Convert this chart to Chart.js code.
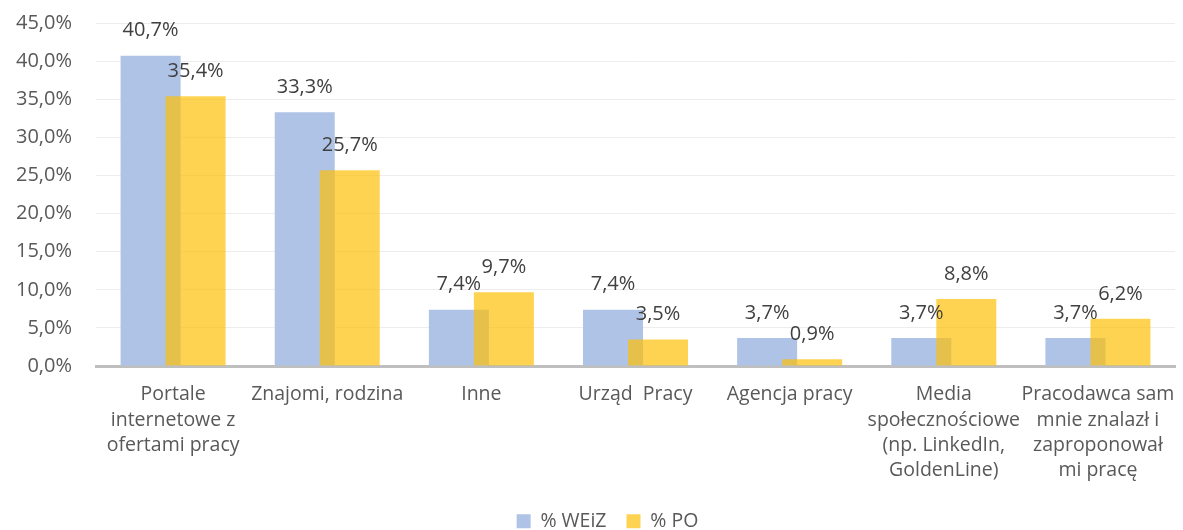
<!DOCTYPE html>
<html>
<head>
<meta charset="utf-8">
<script src="https://cdn.jsdelivr.net/npm/chart.js@4/dist/chart.umd.min.js"></script>
<style>
    html, body { margin: 0; padding: 0; background: #fff; }
    #wrap { width: 1183px; height: 530px; }
</style>
</head>
<body>
<div id="wrap"><canvas id="sourcesChart"></canvas></div>
<script>
const categories = [
    ["Portale", "internetowe z", "ofertami pracy"],
    "Znajomi, rodzina",
    "Inne",
    "Urząd  Pracy",
    "Agencja pracy",
    ["Media", "społecznościowe", "(np. LinkedIn,", "GoldenLine)"],
    ["Pracodawca sam", "mnie znalazł i", "zaproponował", "mi pracę"],
];
const weizValues = [40.7, 33.3, 7.4, 7.4, 3.7, 3.7, 3.7];
const poValues = [35.4, 25.7, 9.7, 3.5, 0.9, 8.8, 6.2];
const yTicks = [0, 5, 10, 15, 20, 25, 30, 35, 40, 45];

const FONT = "'Open Sans', sans-serif";
const fmt = (v) => v.toFixed(1).replace(".", ",") + "%";

// yellow bars sit on top of the blue ones, so draw them last
let drawingYellow = false;
const overlapAndLabels = {
    id: "overlapAndLabels",
    afterLayout(chart) {
        // the legend in the original sits a bit right of centre
        chart.legend.left += 24;
        chart.legend.right += 24;
    },
    beforeDatasetDraw(chart, args) {
        if (args.index === 1 && !drawingYellow) return false;
    },
    afterDatasetsDraw(chart) {
        const ctx = chart.ctx;
        drawingYellow = true;
        chart.getDatasetMeta(1).controller.draw();
        drawingYellow = false;

        ctx.save();
        ctx.font = "20px " + FONT;
        ctx.fillStyle = "#404040";
        ctx.textAlign = "center";
        ctx.textBaseline = "middle";
        chart.data.datasets.forEach((ds, i) => {
            chart.getDatasetMeta(i).data.forEach((bar, j) => {
                ctx.fillText(fmt(ds.data[j]), bar.x, bar.y - 25);
            });
        });
        ctx.restore();
    },
};

document.addEventListener("DOMContentLoaded", function () {
    const ctx = document.getElementById("sourcesChart").getContext("2d");
    new Chart(ctx, {
        type: "bar",
        data: {
            labels: categories,
            datasets: [
                {
                    label: "% WEiZ",
                    data: weizValues,
                    backgroundColor: "#AFC3E6",
                },
                {
                    label: "% PO",
                    data: poValues,
                    backgroundColor: "rgba(255, 190, 0, 0.68)",
                },
            ],
        },
        options: {
            responsive: true,
            maintainAspectRatio: false,
            animation: false,
            categoryPercentage: 0.584,
            barPercentage: 1.333,
            layout: {
                padding: { top: 23, right: 8, left: -8, bottom: -11 },
            },
            scales: {
                x: {
                    grid: { display: false },
                    border: { display: true, color: "#BFBFBF", width: 3 },
                    ticks: {
                        color: "#595959",
                        font: { family: FONT, size: 19.5, lineHeight: 1.3 },
                        padding: 8,
                        maxRotation: 0,
                        autoSkip: false,
                    },
                },
                y: {
                    min: 0,
                    max: 45,
                    afterBuildTicks: (axis) => {
                        axis.ticks = yTicks.map((v) => ({ value: v }));
                    },
                    afterFit: (axis) => {
                        // tick padding is only wanted horizontally
                        axis.paddingTop = 12;
                        axis.paddingBottom = 12;
                    },
                    border: { display: false },
                    grid: { color: "#EDEDED", lineWidth: 1, drawTicks: false },
                    ticks: {
                        color: "#595959",
                        font: { family: FONT, size: 20 },
                        padding: 24,
                        callback: (v) => fmt(v),
                    },
                },
            },
            plugins: {
                legend: {
                    position: "bottom",
                    labels: {
                        color: "#595959",
                        font: { family: FONT, size: 19.5 },
                        boxWidth: 14,
                        boxHeight: 14,
                        padding: 20,
                    },
                },
                tooltip: { enabled: false },
            },
        },
        plugins: [overlapAndLabels],
    });
});
</script>
</body>
</html>
